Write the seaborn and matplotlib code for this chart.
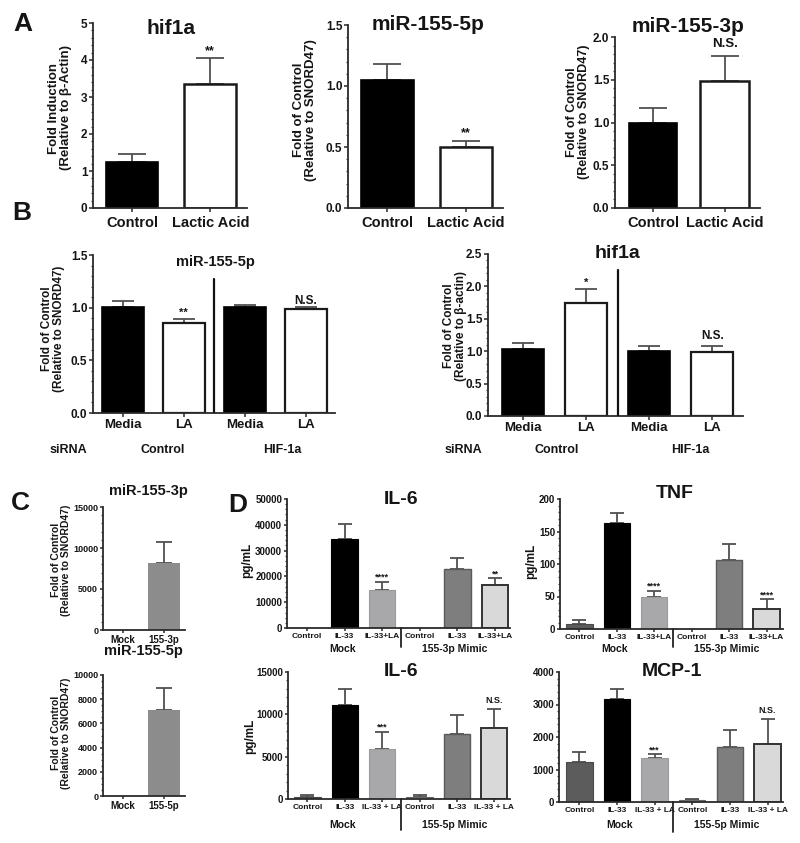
import numpy as np
import pandas as pd
import seaborn as sns
import matplotlib
matplotlib.use('Agg')
import matplotlib.pyplot as plt
from matplotlib.ticker import AutoMinorLocator
import matplotlib.transforms as mtransforms

# ---------------- data ----------------
A_cats = ['Control', 'Lactic Acid']
A_hif_vals = [1.25, 3.35]
A_hif_errs = [1.45, 4.05]
A_5p_vals = [1.05, 0.50]
A_5p_errs = [1.18, 0.55]
A_3p_vals = [1.00, 1.48]
A_3p_errs = [1.17, 1.78]

B_cats = ['Media', 'LA', 'Media', 'LA']
B_5p_vals = [1.01, 0.85, 1.01, 0.99]
B_5p_errs = [1.06, 0.89, 1.03, 1.005]
B_hif_vals = [1.03, 1.74, 1.01, 0.98]
B_hif_errs = [1.13, 1.96, 1.08, 1.08]

C_3p_cats = ['Mock', '155-3p']
C_3p_vals = [0, 8200]
C_3p_errs = [0, 10750]
C_5p_cats = ['Mock', '155-5p']
C_5p_vals = [0, 7100]
C_5p_errs = [0, 8950]

D_top_cats = ['Control', 'IL-33', 'IL-33+LA', 'Control', 'IL-33', 'IL-33+LA']
D_bot_cats = ['Control', 'IL-33', 'IL-33 + LA', 'Control', 'IL-33', 'IL-33 + LA']
D_il6a_vals = [0, 34500, 14700, 0, 22800, 16700]
D_il6a_errs = [0, 40300, 18000, 0, 27200, 19300]
D_tnf_vals = [7, 162.5, 49.7, 0, 106.2, 31.3]
D_tnf_errs = [13.8, 178.5, 58.5, 0, 130.8, 45.6]
D_il6b_vals = [275, 11060, 5900, 236, 7720, 8350]
D_il6b_errs = [470, 12990, 7910, 510, 9880, 10590]
D_mcp_vals = [1237, 3175, 1340, 72, 1700, 1794]
D_mcp_errs = [1526, 3474, 1474, 103, 2227, 2546]

# ---------------- style ----------------
sns.set_theme(style='ticks')
plt.rcParams['font.family'] = ['Liberation Sans', 'DejaVu Sans']
plt.rcParams['font.weight'] = 'bold'
plt.rcParams['axes.labelweight'] = 'bold'

W, H = 800, 843
fig = plt.figure(figsize=(8, 8.43), dpi=100)
fig.patch.set_facecolor('white')

TXT = '#151515'


def make_ax(l, t, r, b):
    return fig.add_axes([l / W, 1 - b / H, (r - l) / W, (b - t) / H])


def ftext(x, y, s, size, rot=0, ha='center', va='center'):
    fig.text(x / W, 1 - y / H, s, fontsize=size, fontweight='bold', ha=ha, va=va,
             rotation=rot, color=TXT, linespacing=1.05)


def bar_panel(ax, labels, vals, errs, colors, edges, lws, width, capsize,
              xlim, ylim, yticks, ylabels, ysize, xsize, xpad, minor=5,
              tick_len=3.0):
    n = len(vals)
    keys = [f'k{i}' for i in range(n)]
    df = pd.DataFrame({'key': keys, 'val': vals})
    sns.barplot(data=df, x='key', y='val', hue='key', order=keys, hue_order=keys,
                palette=dict(zip(keys, colors)), width=width, saturation=1,
                legend=False, ax=ax, errorbar=None, zorder=2)
    for p, ec, lw in zip(ax.patches, edges, lws):
        p.set_edgecolor(ec)
        p.set_linewidth(lw)
    v = np.array(vals, float)
    e = np.array(errs, float)
    m = e > v
    x = np.arange(n)
    ax.errorbar(x[m], v[m], yerr=[np.zeros(m.sum()), (e - v)[m]], fmt='none',
                ecolor='#505050', elinewidth=1.3, capsize=capsize, capthick=1.3,
                zorder=1.5)
    ax.set_xlim(*xlim)
    ax.set_ylim(*ylim)
    ax.set_yticks(yticks)
    ax.set_yticklabels(ylabels)
    ax.yaxis.set_minor_locator(AutoMinorLocator(minor))
    ax.set_xticks(x)
    ax.set_xticklabels(labels)
    ax.set_xlabel('')
    ax.set_ylabel('')
    for s in ['top', 'right']:
        ax.spines[s].set_visible(False)
    for s in ['left', 'bottom']:
        ax.spines[s].set_linewidth(1.3)
        ax.spines[s].set_color('#2a2a2a')
    ax.tick_params(axis='y', which='major', length=tick_len, width=1.1, pad=1,
                   labelsize=ysize, colors='#2a2a2a')
    ax.tick_params(axis='y', which='minor', length=1.6, width=0.9, colors='#444444')
    ax.tick_params(axis='x', which='major', length=tick_len, width=1.1, pad=xpad,
                   labelsize=xsize, colors='#2a2a2a')
    for t in ax.get_xticklabels() + ax.get_yticklabels():
        t.set_fontweight('bold')
        t.set_color(TXT)
    ax.set_facecolor('none')


def annotate(ax, xi, y, s, size, off=1.0):
    ax.annotate(s, (xi, y), xytext=(0, off), textcoords='offset points',
                ha='center', va='bottom', fontsize=size, fontweight='bold', color=TXT)


# ---------------- Panel A ----------------
a_cols = ['black', 'white']
a_edges = ['black', '#1a1a1a']
a_lws = [1.2, 1.8]

ax = make_ax(93, 23, 247, 208)
bar_panel(ax, A_cats, A_hif_vals, A_hif_errs, a_cols, a_edges, a_lws, 0.67, 10,
          (-0.5, 1.47), (0, 5), [0, 1, 2, 3, 4, 5], ['0', '1', '2', '3', '4', '5'],
          8.5, 10.5, 2.5)
annotate(ax, 1, A_hif_errs[1], '**', 9)
ftext(60, 108, 'Fold Induction\n(Relative to β-Actin)', 9.5, rot=90)
ftext(171, 29, 'hif1a', 15)

ax = make_ax(348, 25, 503, 208)
bar_panel(ax, A_cats, A_5p_vals, A_5p_errs, a_cols, a_edges, a_lws, 0.67, 10,
          (-0.5, 1.47), (0, 1.5), [0, 0.5, 1.0, 1.5], ['0.0', '0.5', '1.0', '1.5'],
          8.5, 10.5, 2.5)
annotate(ax, 1, A_5p_errs[1], '**', 9)
ftext(305, 110, 'Fold of Control\n(Relative to SNORD47)', 9.5, rot=90)
ftext(428, 24, 'miR-155-5p', 15)

ax = make_ax(615, 37, 760, 208)
bar_panel(ax, A_cats, A_3p_vals, A_3p_errs, a_cols, a_edges, a_lws, 0.68, 10,
          (-0.53, 1.49), (0, 2.0), [0, 0.5, 1.0, 1.5, 2.0],
          ['0.0', '0.5', '1.0', '1.5', '2.0'], 8.5, 10.5, 2.5)
annotate(ax, 1, A_3p_errs[1], 'N.S.', 9.5, off=4)
ftext(578, 112, 'Fold of Control\n(Relative to SNORD47)', 9, rot=90)
ftext(688, 27, 'miR-155-3p', 15)

# ---------------- Panel B ----------------
b_cols = ['black', 'white', 'black', 'white']
b_edges = ['black', '#1a1a1a', 'black', '#1a1a1a']
b_lws = [1.2, 1.6, 1.2, 1.6]

ax = make_ax(93, 255, 335, 413)
bar_panel(ax, B_cats, B_5p_vals, B_5p_errs, b_cols, b_edges, b_lws, 0.69, 8,
          (-0.49, 3.48), (0, 1.5), [0, 0.5, 1.0, 1.5], ['0.0', '0.5', '1.0', '1.5'],
          8.5, 9.5, 1.0)
ax.plot([1.5, 1.5], [0, 1.27], color='#111111', lw=1.6, zorder=3)
annotate(ax, 1, B_5p_errs[1], '**', 8)
annotate(ax, 3, B_5p_errs[3], 'N.S.', 8.5, off=0)
ftext(53, 329, 'Fold of Control\n(Relative to SNORD47)', 8.5, rot=90)
ftext(215, 262, 'miR-155-5p', 10.5)
ftext(68, 450, 'siRNA', 9)
ftext(163, 450, 'Control', 9)
ftext(282, 450, 'HIF-1a', 9)

ax = make_ax(488, 254, 743, 416)
bar_panel(ax, B_cats, B_hif_vals, B_hif_errs, b_cols, b_edges, b_lws, 0.67, 8,
          (-0.56, 3.49), (0, 2.5), [0, 0.5, 1.0, 1.5, 2.0, 2.5],
          ['0.0', '0.5', '1.0', '1.5', '2.0', '2.5'], 8.5, 9.5, 1.0)
ax.plot([1.5, 1.5], [0, 2.25], color='#111111', lw=1.6, zorder=3)
annotate(ax, 1, B_hif_errs[1], '*', 8)
annotate(ax, 3, B_hif_errs[3], 'N.S.', 8.5, off=3)
ftext(455, 326, 'Fold of Control\n(Relative to β-actin)', 8.5, rot=90)
ftext(617, 254, 'hif1a', 14)
ftext(463, 450, 'siRNA', 9)
ftext(557, 450, 'Control', 9)
ftext(690, 450, 'HIF-1a', 9)

# ---------------- Panel C ----------------
c_cols = ['#8c8c8c', '#8c8c8c']
ax = make_ax(103, 507, 185, 630)
bar_panel(ax, C_3p_cats, C_3p_vals, C_3p_errs, c_cols, ['none', 'none'], [0, 0],
          0.78, 6, (-0.49, 1.51), (0, 15000), [0, 5000, 10000, 15000],
          ['0', '5000', '10000', '15000'], 6.5, 7, 0.8, tick_len=2.5)
ftext(61, 560, 'Fold of Control\n(Relative to SNORD47)', 7.5, rot=90)
ftext(148, 491, 'miR-155-3p', 10.5)

ax = make_ax(103, 675, 185, 796)
bar_panel(ax, C_5p_cats, C_5p_vals, C_5p_errs, c_cols, ['none', 'none'], [0, 0],
          0.78, 6, (-0.49, 1.51), (0, 10000), [0, 2000, 4000, 6000, 8000, 10000],
          ['0', '2000', '4000', '6000', '8000', '10000'], 6.5, 7, 0.8,
          minor=4, tick_len=2.5)
ftext(61, 733, 'Fold of Control\n(Relative to SNORD47)', 7.5, rot=90)
ftext(143, 651, 'miR-155-5p', 10.5)

# ---------------- Panel D ----------------
d_cols = ['#5c5c5c', '#000000', '#a8a8aa', '#8c8c8c', '#7e7e7e', '#d9d9d9']
d_edges = ['#4a4a4a', '#000000', '#9a9a9a', '#6a6a6a', '#5a5a5a', '#333333']
d_lws = [0.8, 0.8, 0.8, 0.8, 1.0, 1.4]


def sep(ax, ext):
    tr = mtransforms.blended_transform_factory(ax.transData, ax.transAxes)
    ax.plot([2.5, 2.5], [0, -ext], transform=tr, color='#222222', lw=1.3,
            clip_on=False, zorder=3)


ax = make_ax(287, 499, 510, 628)
bar_panel(ax, D_top_cats, D_il6a_vals, D_il6a_errs, d_cols, d_edges, d_lws, 0.7, 5,
          (-0.53, 5.4), (0, 50000), [0, 10000, 20000, 30000, 40000, 50000],
          ['0', '10000', '20000', '30000', '40000', '50000'], 7, 6, 1.3,
          tick_len=2.5)
sep(ax, 19 / 129)
annotate(ax, 2, D_il6a_errs[2], '****', 6.5, off=0)
annotate(ax, 5, D_il6a_errs[5], '**', 6.5, off=0)
ftext(247, 560, 'pg/mL', 8.5, rot=90)
ftext(401, 499, 'IL-6', 14)
ftext(343, 649, 'Mock', 7.5)
ftext(455, 649, '155-3p Mimic', 7.5)

ax = make_ax(560, 499, 783, 629)
bar_panel(ax, D_top_cats, D_tnf_vals, D_tnf_errs, d_cols, d_edges, d_lws, 0.7, 5,
          (-0.52, 5.44), (0, 200), [0, 50, 100, 150, 200],
          ['0', '50', '100', '150', '200'], 7, 6, 1.3, tick_len=2.5)
sep(ax, 18 / 130)
annotate(ax, 2, D_tnf_errs[2], '****', 6.5, off=0)
annotate(ax, 5, D_tnf_errs[5], '****', 6.5, off=0)
ftext(531, 561, 'pg/mL', 8.5, rot=90)
ftext(675, 494, 'TNF', 14)
ftext(615, 649, 'Mock', 7.5)
ftext(727, 649, '155-3p Mimic', 7.5)

ax = make_ax(288, 672, 510, 799)
bar_panel(ax, D_bot_cats, D_il6b_vals, D_il6b_errs, d_cols, d_edges, d_lws, 0.7, 5,
          (-0.52, 5.42), (0, 15000), [0, 5000, 10000, 15000],
          ['0', '5000', '10000', '15000'], 7, 6, 1.3, tick_len=2.5)
sep(ax, 31 / 127)
annotate(ax, 2, D_il6b_errs[2], '***', 6.5, off=0)
annotate(ax, 5, D_il6b_errs[5], 'N.S.', 6.5, off=3)
ftext(250, 736, 'pg/mL', 8.5, rot=90)
ftext(401, 671, 'IL-6', 14)
ftext(343, 825, 'Mock', 7.5)
ftext(455, 825, '155-5p Mimic', 7.5)

ax = make_ax(559, 672, 783, 802)
bar_panel(ax, D_bot_cats, D_mcp_vals, D_mcp_errs, d_cols, d_edges, d_lws, 0.7, 5,
          (-0.54, 5.41), (0, 4000), [0, 1000, 2000, 3000, 4000],
          ['0', '1000', '2000', '3000', '4000'], 7, 6, 1.3, tick_len=2.5)
sep(ax, 30 / 130)
annotate(ax, 2, D_mcp_errs[2], '***', 6.5, off=0)
annotate(ax, 5, D_mcp_errs[5], 'N.S.', 6.5, off=3)
ftext(672, 671, 'MCP-1', 14)
ftext(620, 825, 'Mock', 7.5)
ftext(727, 825, '155-5p Mimic', 7.5)

# ---------------- panel letters ----------------
ftext(23, 24, 'A', 19)
ftext(22, 213, 'B', 19)
ftext(20, 503, 'C', 19)
ftext(238, 505, 'D', 19)

fig.savefig('out.png', dpi=100, facecolor='white')
